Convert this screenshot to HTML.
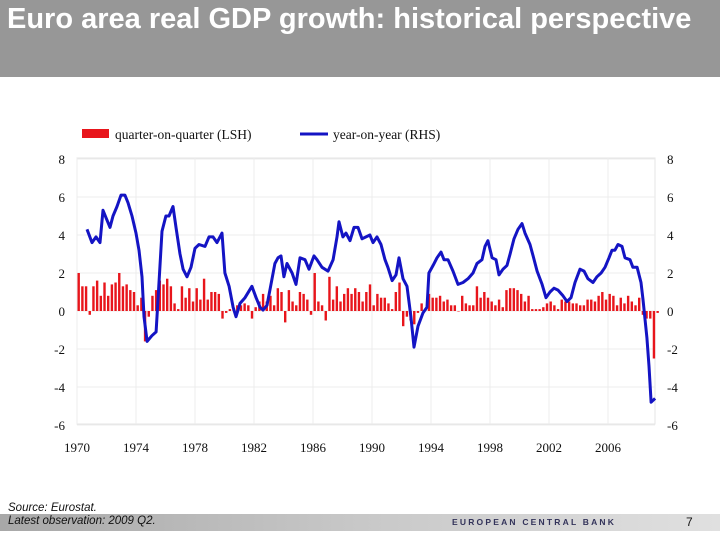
<!DOCTYPE html>
<html><head><meta charset="utf-8">
<style>
body{margin:0;width:720px;height:540px;background:#fff;position:relative;overflow:hidden;font-family:"Liberation Sans",sans-serif}
#hdr{position:absolute;left:0;top:0;width:720px;height:77px;background:#979797}
#title{position:absolute;left:7px;top:3px;color:#fff;font-weight:bold;font-size:29px;letter-spacing:0;white-space:nowrap}
#foot{position:absolute;left:0;top:514px;width:720px;height:17px;background:linear-gradient(to right,#a8a8a8,#c8c8c8 50%,#e0e0e0)}
.it{position:absolute;font-style:italic;font-size:11.5px;color:#111;white-space:nowrap}
#ecb{position:absolute;left:452px;top:517px;font-size:8.5px;font-weight:bold;letter-spacing:2.2px;color:#33335a}
#pg{position:absolute;left:686px;top:515px;font-size:12px;color:#111}
</style></head><body>
<div id="hdr"></div>
<div id="title">Euro area real GDP growth: historical perspective</div>
<svg id="chart" width="720" height="540" style="position:absolute;left:0;top:0"></svg>
<div class="it" style="left:8px;top:502px">Source: Eurostat.</div>
<div id="foot"></div>
<div class="it" style="left:8px;top:515px">Latest observation: 2009 Q2.</div>
<div id="ecb">EUROPEAN CENTRAL BANK</div>
<div id="pg">7</div>
<script>
const qoq=[2.0,1.3,1.3,-0.2,1.3,1.6,0.8,1.5,0.8,1.4,1.5,2.0,1.3,1.4,1.1,1.0,0.3,0.7,
-1.6,-0.3,
0.8,1.1,1.6,1.4,1.7,1.3,0.4,0.1,1.3,0.7,1.2,0.5,1.2,0.6,1.7,0.6,1.0,1.0,
0.9,-0.4,
-0.1,0.1,0.1,0.3,0.3,0.4,0.3,-0.4,0.2,0.5,0.9,
0.5,0.8,0.3,1.2,1.0,-0.6,1.1,0.5,0.3,1.0,0.9,0.6,-0.2,2.0,0.5,0.3,-0.5,1.8,0.6,1.3,0.5,0.9,1.2,0.9,1.2,1.0,0.5,1.0,1.4,0.3,0.9,0.7,0.7,0.4,0.1,1.0,1.5,-0.8,-0.3,-0.5,-0.7,-0.1,0.4,0.1,0.9,0.7,0.7,0.8,0.5,0.6,0.3,0.3,0.0,
0.8,0.4,0.3,0.3,1.3,0.7,1.0,0.7,0.5,0.3,0.6,0.2,1.1,1.2,1.2,1.1,0.9,0.5,0.8,0.1,0.1,0.1,0.2,0.4,0.5,0.3,0.1,0.6,0.5,0.5,0.4,0.4,0.3,0.3,0.6,0.6,0.5,0.8,1.0,0.6,0.9,0.8,0.3,0.7,0.4,0.8,0.5,0.3,0.7,-0.2,-0.4,-0.4,-2.5,-0.1];
const yoyYears=[0.68,1.02,1.29,1.56,1.76,1.97,2.24,2.44,2.71,2.98,3.25,3.46,3.73,4.0,4.2,4.41,4.54,4.75,5.08,5.36,5.49,5.76,6.03,6.24,6.51,6.71,6.98,7.19,7.46,7.73,8.0,8.27,8.68,8.95,9.22,9.49,9.83,10.03,10.31,10.58,10.78,11.05,11.39,11.86,12.14,12.41,12.61,12.88,13.08,13.42,13.63,13.83,14.03,14.24,14.58,14.85,15.12,15.46,15.73,16.07,16.27,16.61,17.02,17.36,17.63,17.76,18.03,18.24,18.51,18.78,19.05,19.32,19.59,19.86,20.07,20.34,20.61,20.88,21.08,21.36,21.63,21.83,22.1,22.37,22.64,22.85,23.12,23.46,23.73,23.86,24.14,24.41,24.68,24.88,25.15,25.49,25.83,26.17,26.51,26.85,27.12,27.46,27.66,27.86,28.14,28.41,28.61,28.88,29.15,29.36,29.63,29.9,30.17,30.37,30.71,30.92,31.19,31.53,31.8,32.07,32.34,32.61,32.95,33.22,33.49,33.76,34.1,34.37,34.64,34.98,35.25,35.53,35.8,36.07,36.27,36.47,36.68,36.95,37.15,37.49,37.69,37.97,38.24,38.37,38.64,38.78,38.92,39.19];
const yoy=[4.3,3.6,3.9,3.6,5.3,4.9,4.4,5.0,5.5,6.1,6.1,5.7,5.0,4.1,3.2,1.8,-0.3,-1.6,-1.3,-1.1,0.6,4.2,5.0,5.0,5.5,4.4,3.0,2.2,1.8,2.3,3.3,3.5,3.4,3.9,3.9,3.6,4.1,2.0,1.3,0.2,-0.3,0.4,0.7,1.3,0.7,0.2,0.05,0.3,1.1,2.5,2.8,2.9,1.8,2.5,2.0,1.4,2.8,2.7,2.2,2.9,2.7,2.3,2.1,2.7,3.9,4.7,3.9,4.1,3.7,4.4,4.4,3.8,3.9,4.0,3.6,3.9,3.5,2.7,2.3,1.6,1.9,2.8,1.7,1.3,-0.3,-1.9,-0.8,-0.1,0.2,2.0,2.4,2.8,3.1,2.7,2.7,2.1,1.4,1.5,1.7,2.0,2.5,2.7,3.4,3.7,2.8,2.7,1.9,2.2,2.4,3.0,3.8,4.3,4.6,4.1,3.5,2.9,2.1,1.4,0.7,1.0,1.2,1.1,0.8,0.5,0.7,1.5,2.2,2.1,1.7,1.5,1.8,2.0,2.3,2.8,3.2,3.2,3.5,3.4,2.8,2.7,2.3,2.3,1.5,0.6,-1.4,-2.9,-4.8,-4.6];
const yTicks=[8,6,4,2,0,-2,-4,-6];
const xTickYears=[1970,1974,1978,1982,1986,1990,1994,1998,2002,2006];

const NS='http://www.w3.org/2000/svg';
const svg=document.getElementById('chart');
const L=77,R=655,T=158,B=424;
const yS=v=>311-v*19;
const xS=yr=>L+(yr-1970)*14.75;
function mk(tag,attrs,parent){const e=document.createElementNS(NS,tag);for(const k in attrs)e.setAttribute(k,attrs[k]);(parent||svg).appendChild(e);return e;}
let fr=mk('rect',{x:L,y:T,width:R-L,height:B-T,fill:'none',stroke:'#e4e4e4','stroke-width':1});


yTicks.forEach(v=>{
  const g=mk('line',{x1:L,x2:R,y1:yS(v),y2:yS(v),stroke:'#ececec','stroke-width':1});
  
  
  const t1=mk('text',{x:65,y:yS(v)+5,'text-anchor':'end','font-size':13,'font-family':'Liberation Serif, serif',fill:'#111'});
  t1.textContent=v;
  
  
  const t2=mk('text',{x:667,y:yS(v)+5,'text-anchor':'start','font-size':13,'font-family':'Liberation Serif, serif',fill:'#111'});
  t2.textContent=v;
  
  
});
xTickYears.forEach(yr=>{
  const g=mk('line',{x1:xS(yr),x2:xS(yr),y1:T,y2:B,stroke:'#ececec','stroke-width':1});
  
  
  const t=mk('text',{x:xS(yr),y:452,'text-anchor':'middle','font-size':13,'font-family':'Liberation Serif, serif',fill:'#111'});
  t.textContent=yr;
  
  
});
qoq.forEach((v,i)=>{
  const x=xS(1970+i/4)+0.5;
  const y0=yS(0),y1=yS(v);
  const b=mk('rect',{x:x,y:Math.min(y0,y1),width:2.4,height:Math.max(0.5,Math.abs(y1-y0)),fill:'#e8151b'});
  
  
});
const pts=yoy.map((v,i)=>xS(1970+yoyYears[i]).toFixed(1)+','+yS(v).toFixed(1)).join(' ');
const pl=mk('polyline',{points:pts,fill:'none',stroke:'#1414c4','stroke-width':3,'stroke-linejoin':'round'});


const lg=mk('g',{});


const lr=mk('rect',{x:82,y:129,width:27,height:9,fill:'#e8151b'},lg);


const lt1=mk('text',{x:115,y:139,'font-size':13.5,'font-family':'Liberation Serif, serif',fill:'#111'},lg);
lt1.textContent='quarter-on-quarter (LSH)';


const ll=mk('line',{x1:300,x2:328,y1:134,y2:134,stroke:'#1414c4','stroke-width':3},lg);


const lt2=mk('text',{x:333,y:139,'font-size':13.5,'font-family':'Liberation Serif, serif',fill:'#111'},lg);
lt2.textContent='year-on-year (RHS)';


</script>
</body></html>
